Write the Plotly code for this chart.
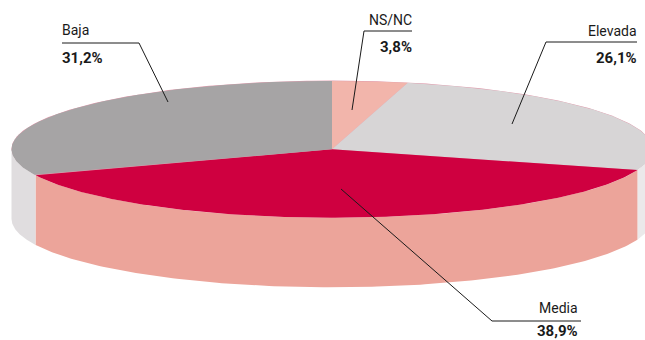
import numpy as np
import plotly.graph_objects as go

# Pie slices, clockwise from twelve o'clock
categories = ["NS/NC", "Elevada", "Media", "Baja"]
shares = [3.8, 26.1, 38.9, 31.2]
share_labels = ["3,8%", "26,1%", "38,9%", "31,2%"]

top_colors = ["#f2b5ab", "#d7d5d6", "#cf0040", "#a6a4a5"]
wall_colors = ["#f2b5ab", "#ebe9ea", "#eca49a", "#e0dddf"]

# Disc geometry in page pixels
CX, CY, RX, RY, DEPTH = 332.0, 149.3, 320.5, 68.4, 69.6
FONT = "Roboto, Liberation Sans, sans-serif"

# Callouts: leader polyline, text side, text x, name y, value y
callouts = {
    "Baja": dict(path=[(62, 43), (139, 43), (168, 102)], anchor="left", x=62, y1=30, y2=58),
    "NS/NC": dict(path=[(412, 31), (364, 31), (352, 110)], anchor="right", x=412, y1=20, y2=47),
    "Elevada": dict(path=[(637, 42), (546, 42), (512, 124)], anchor="right", x=637, y1=31, y2=58),
    "Media": dict(path=[(341, 189), (492, 321), (581, 321)], anchor="right", x=578, y1=308, y2=330.5),
}


def rim(t):
    return CX + RX * np.sin(t), CY - RY * np.cos(t)


fig = go.Figure()


def add_poly(xs, ys, color):
    fig.add_trace(go.Scatter(x=xs, y=ys, mode="lines", fill="toself", fillcolor=color,
                             line=dict(width=0, color=color), hoverinfo="skip", showlegend=False))


edges = np.radians(np.concatenate([[0], np.cumsum(shares)]) * 3.6)

# Thin crimson sliver along the back rim of the disc
t_all = np.linspace(0, 2 * np.pi, 400)
x_all, y_all = rim(t_all)
add_poly(x_all, y_all - 0.35, "#e09aac")

# Outer wall: only the front half of the rim shows
for start, end, color in zip(edges[:-1], edges[1:], wall_colors):
    a, b = max(start, np.pi / 2), min(end, 3 * np.pi / 2)
    if b <= a:
        continue
    t = np.linspace(a, b, 160)
    x, y = rim(t)
    add_poly(np.r_[x, x[::-1]], np.r_[y, y[::-1] + DEPTH], color)

# Top face
for start, end, color in zip(edges[:-1], edges[1:], top_colors):
    t = np.linspace(start, end, 200)
    x, y = rim(t)
    add_poly(np.r_[CX, x, CX], np.r_[CY, y, CY], color)

# Leader lines and their labels
for name, share in zip(categories, share_labels):
    c = callouts[name]
    px, py = zip(*c["path"])
    fig.add_trace(go.Scatter(x=px, y=py, mode="lines", line=dict(color="#1a1a1a", width=1),
                             hoverinfo="skip", showlegend=False))
    for text, y, size in ((name, c["y1"], 14), (f"<b>{share}</b>", c["y2"], 15)):
        fig.add_annotation(x=c["x"], y=y, text=text, showarrow=False, xanchor=c["anchor"], yanchor="middle",
                           borderpad=0, borderwidth=0, font=dict(family=FONT, size=size, color="#1a1a1a"))

fig.update_layout(
    width=645, height=340, margin=dict(l=0, r=0, t=0, b=0),
    paper_bgcolor="white", plot_bgcolor="white", showlegend=False,
    xaxis=dict(range=[0, 645], visible=False, fixedrange=True),
    yaxis=dict(range=[340, 0], visible=False, fixedrange=True),
)

fig.write_html("out.html", config={"displayModeBar": False})
